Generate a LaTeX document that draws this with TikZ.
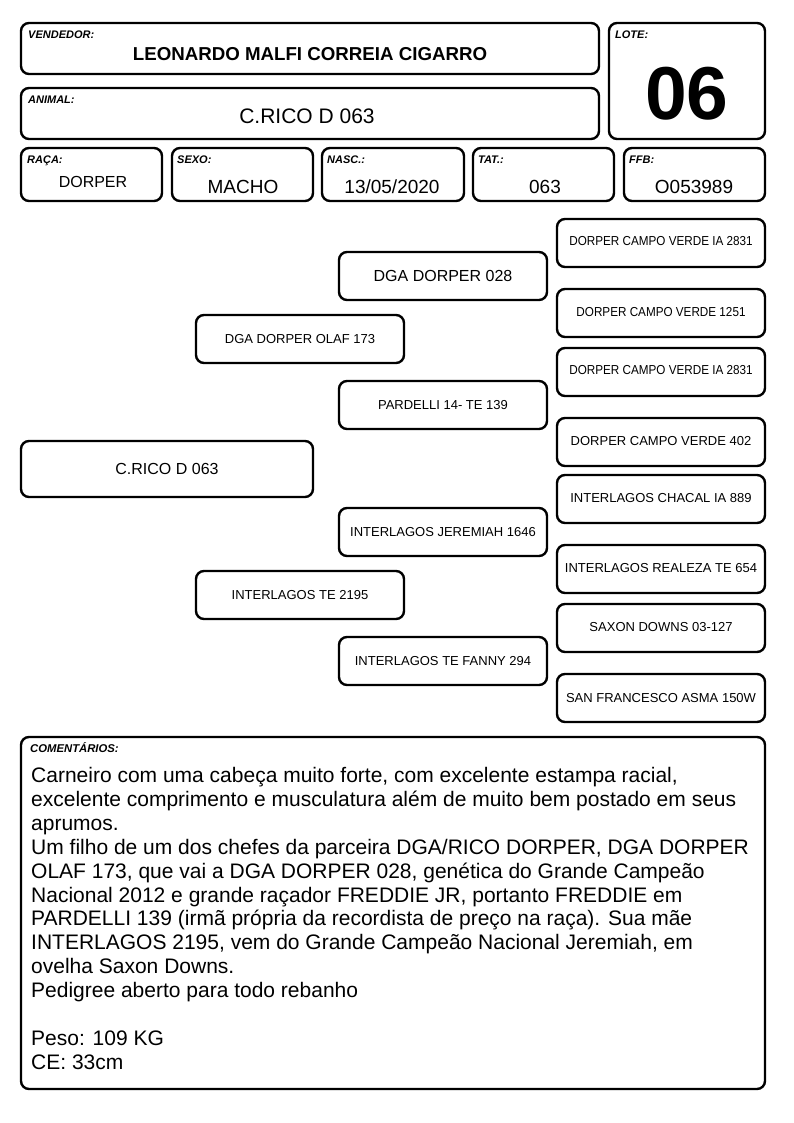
\documentclass[tikz,border=0pt]{standalone}
\usepackage{fontspec}
\setmainfont{Liberation Sans}
\newfontfamily\narrowfont[FakeStretch=0.9]{Liberation Sans}
\usetikzlibrary{fit}
\tikzset{
  x=1pt,y=-1pt,
  box/.style={draw, line width=2.4pt, rounded corners=8pt, inner sep=0pt},
  lbl/.style={anchor=base west, inner sep=0pt, font=\fontsize{11}{12}\selectfont\bfseries\itshape},
  val/.style={inner sep=0pt, font=\fontsize{19}{22}\selectfont},
  psmall/.style={inner sep=0pt, font=\fontsize{13}{15}\selectfont},
  pnarrow/.style={inner sep=0pt, font=\narrowfont\fontsize{13}{15}\selectfont},
  pbig/.style={inner sep=0pt, font=\fontsize{16}{18}\selectfont},
  cline/.style={anchor=base west, inner sep=0pt, font=\fontsize{21}{24}\selectfont},
}
\begin{document}
\begin{tikzpicture}
\useasboundingbox[fill=white] (0,0) rectangle (794,1123);
% header boxes
\node[box, fit={(21,23)(599,74)}] (vend) {};
\node[lbl] (vendl) at (28,39) {VENDEDOR:};
\node[val, font=\fontsize{18.7}{22}\selectfont\bfseries] (vendv) at (310,54) {LEONARDO MALFI CORREIA CIGARRO};
\node[box, fit={(21,88)(599,139)}] (anim) {};
\node[lbl] (animl) at (28,104) {ANIMAL:};
\node[val, font=\fontsize{21}{24}\selectfont] (animv) at (307,116) {C.RICO D 063};
\node[box, fit={(609,23)(765,139)}] (lote) {};
\node[lbl] (lotel) at (615,39) {LOTE:};
\node[val, font=\fontsize{75}{78}\selectfont\bfseries] (lotev) at (687,94) {06};
% row
\node[box, fit={(21,148)(162,201)}] (raca) {};
\node[lbl] (racal) at (27,164) {RAÇA:};
\node[val, font=\fontsize{16}{18}\selectfont] (racav) at (93,182) {DORPER};
\node[box, fit={(172,148)(313,201)}] (sexo) {};
\node[lbl] (sexol) at (177,164) {SEXO:};
\node[val] (sexov) at (243,187) {MACHO};
\node[box, fit={(322,148)(464,201)}] (nasc) {};
\node[lbl] (nascl) at (327,164) {NASC.:};
\node[val] (nascv) at (392,187) {13/05/2020};
\node[box, fit={(473,148)(614,201)}] (tat) {};
\node[lbl] (tatl) at (478,164) {TAT.:};
\node[val] (tatv) at (545,187) {063};
\node[box, fit={(624,148)(765,201)}] (ffb) {};
\node[lbl] (ffbl) at (629,164) {FFB:};
\node[val] (ffbv) at (694,187) {O053989};
% pedigree
\node[box, fit={(21,441)(313,497)}] (p0) {};
\node[pbig] (t0) at (p0) {C.RICO D 063};
\node[box, fit={(196,315)(404,363)}] (p1) {};
\node[psmall] (t1) at (p1) {DGA DORPER OLAF 173};
\node[box, fit={(196,571)(404,619)}] (p2) {};
\node[psmall] (t2) at (p2) {INTERLAGOS TE 2195};
\node[box, fit={(339,252)(547,300)}] (p3) {};
\node[pbig] (t3) at (p3) {DGA DORPER 028};
\node[box, fit={(339,381)(547,429)}] (p4) {};
\node[psmall] (t4) at (p4) {PARDELLI 14- TE 139};
\node[box, fit={(339,508)(547,556)}] (p5) {};
\node[psmall] (t5) at (p5) {INTERLAGOS JEREMIAH 1646};
\node[box, fit={(339,637)(547,685)}] (p6) {};
\node[psmall] (t6) at (p6) {INTERLAGOS TE FANNY 294};
\node[box, fit={(557,219)(765,267)}] (p7) {};
\node[pnarrow] (t7) at ([yshift=2pt]p7.center) {DORPER CAMPO VERDE IA 2831};
\node[box, fit={(557,289)(765,337)}] (p8) {};
\node[pnarrow] (t8) at ([yshift=1pt]p8.center) {DORPER CAMPO VERDE 1251};
\node[box, fit={(557,348)(765,396)}] (p9) {};
\node[pnarrow] (t9) at ([yshift=2pt]p9.center) {DORPER CAMPO VERDE IA 2831};
\node[box, fit={(557,418)(765,466)}] (p10) {};
\node[psmall] (t10) at ([yshift=1pt]p10.center) {DORPER CAMPO VERDE 402};
\node[box, fit={(557,475)(765,523)}] (p11) {};
\node[psmall] (t11) at ([yshift=1pt]p11.center) {INTERLAGOS CHACAL IA 889};
\node[box, fit={(557,545)(765,593)}] (p12) {};
\node[psmall] (t12) at ([yshift=1pt]p12.center) {INTERLAGOS REALEZA TE 654};
\node[box, fit={(557,604)(765,652)}] (p13) {};
\node[psmall] (t13) at ([yshift=1pt]p13.center) {SAXON DOWNS 03-127};
\node[box, fit={(557,674)(765,722)}] (p14) {};
\node[psmall] (t14) at (p14) {SAN FRANCESCO ASMA 150W};
% comments
\node[box, fit={(21,737)(765,1089)}] (com) {};
\node[lbl, font=\fontsize{11.3}{12}\selectfont\bfseries\itshape] (coml) at (30,752) {COMENTÁRIOS:};
\node[cline] (c1) at (31,782) {Carneiro com uma cabeça muito forte, com excelente estampa racial,};
\node[cline] (c2) at (31,806) {excelente comprimento e musculatura além de muito bem postado em seus};
\node[cline] (c3) at (31,830) {aprumos.};
\node[cline] (c4) at (31,854) {Um filho de um dos chefes da parceira DGA/RICO DORPER, DGA DORPER};
\node[cline] (c5) at (31,878) {OLAF 173, que vai a DGA DORPER 028, genética do Grande Campeão};
\node[cline] (c6) at (31,902) {Nacional 2012 e grande raçador FREDDIE JR, portanto FREDDIE em};
\node[cline] (c7) at (31,925) {PARDELLI 139 (irmã própria da recordista de preço na raça). Sua mãe};
\node[cline] (c8) at (31,949) {INTERLAGOS 2195, vem do Grande Campeão Nacional Jeremiah, em};
\node[cline] (c9) at (31,973) {ovelha Saxon Downs.};
\node[cline] (c10) at (31,997) {Pedigree aberto para todo rebanho};
\node[cline] (c12) at (31,1045) {Peso: 109 KG};
\node[cline] (c13) at (31,1069) {CE: 33cm};
\end{tikzpicture}
\end{document}
